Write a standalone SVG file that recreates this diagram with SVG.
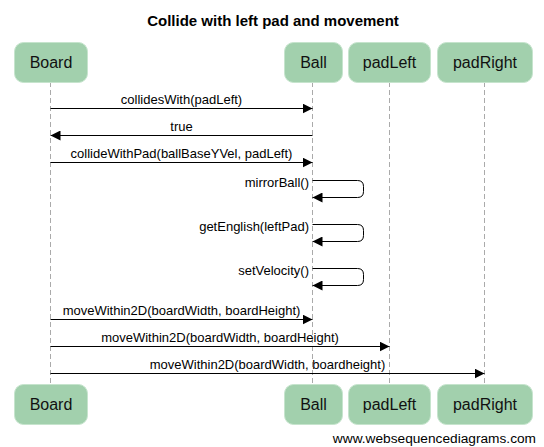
<svg xmlns="http://www.w3.org/2000/svg" width="544" height="447" viewBox="0 0 544 447">
<style>
.bg{fill:#ffffff}
.title{font-family:"Liberation Sans",Arial,sans-serif;font-size:15px;font-weight:bold;fill:#000;text-anchor:middle}
.actor rect{fill:#a2d0ad;stroke:#c6e4cd;stroke-width:1}
.actor text{font-family:"Liberation Sans",Arial,sans-serif;font-size:16px;fill:#111;text-anchor:middle}
.life{stroke:#aaaaaa;stroke-width:1;stroke-dasharray:5,3;fill:none}
.msg{stroke:#000;stroke-width:1;fill:none;marker-end:url(#ah)}
.lbl{font-family:"Liberation Sans",Arial,sans-serif;font-size:13px;fill:#000;text-anchor:middle}
.lblr{font-family:"Liberation Sans",Arial,sans-serif;font-size:13px;fill:#000;text-anchor:end}
.foot{font-family:"Liberation Sans",Arial,sans-serif;font-size:13.7px;fill:#000;text-anchor:end}
</style>
<defs>
<marker id="ah" markerWidth="10" markerHeight="10" refX="10" refY="5" orient="auto" markerUnits="userSpaceOnUse">
<path d="M0,0 L10,5 L0,10 z" fill="#000"/>
</marker>
</defs>
<rect class="bg" x="0" y="0" width="544" height="447"/>
<text class="title" x="273" y="26">Collide with left pad and movement</text>
<g id="lifelines">
<line class="life" x1="50.5" y1="82" x2="50.5" y2="384"/>
<line class="life" x1="312.5" y1="82" x2="312.5" y2="384"/>
<line class="life" x1="389.5" y1="82" x2="389.5" y2="384"/>
<line class="life" x1="484.5" y1="82" x2="484.5" y2="384"/>
</g>
<g id="Board" class="actor">
<rect x="14.5" y="42.5" width="73" height="40" rx="9"/>
<text x="51" y="68">Board</text>
<rect x="14.5" y="384.5" width="73" height="40" rx="9"/>
<text x="51" y="410">Board</text>
</g>
<g id="Ball" class="actor">
<rect x="284.5" y="42.5" width="58" height="40" rx="9"/>
<text x="313.5" y="68">Ball</text>
<rect x="284.5" y="384.5" width="58" height="40" rx="9"/>
<text x="313.5" y="410">Ball</text>
</g>
<g id="padLeft" class="actor">
<rect x="348.5" y="42.5" width="82" height="40" rx="9"/>
<text x="389.5" y="68">padLeft</text>
<rect x="348.5" y="384.5" width="82" height="40" rx="9"/>
<text x="389.5" y="410">padLeft</text>
</g>
<g id="padRight" class="actor">
<rect x="437.5" y="42.5" width="95" height="40" rx="9"/>
<text x="485" y="68">padRight</text>
<rect x="437.5" y="384.5" width="95" height="40" rx="9"/>
<text x="485" y="410">padRight</text>
</g>
<g id="connectors">
<line class="msg" x1="50.5" y1="108.5" x2="312.5" y2="108.5"/>
<text class="lbl" x="181.5" y="104">collidesWith(padLeft)</text>
<line class="msg" x1="312.5" y1="135.5" x2="50.5" y2="135.5"/>
<text class="lbl" x="181.5" y="131">true</text>
<line class="msg" x1="50.5" y1="162.5" x2="312.5" y2="162.5"/>
<text class="lbl" x="181.5" y="158">collideWithPad(ballBaseYVel, padLeft)</text>
<path class="msg" d="M312.5,180.5 H357.5 Q363.5,180.5 363.5,186.5 V191.5 Q363.5,197.5 357.5,197.5 H312.5"/>
<text class="lblr" x="309" y="187">mirrorBall()</text>
<path class="msg" d="M312.5,224.5 H357.5 Q363.5,224.5 363.5,230.5 V235.5 Q363.5,241.5 357.5,241.5 H312.5"/>
<text class="lblr" x="309" y="231">getEnglish(leftPad)</text>
<path class="msg" d="M312.5,268.5 H357.5 Q363.5,268.5 363.5,274.5 V279.5 Q363.5,285.5 357.5,285.5 H312.5"/>
<text class="lblr" x="309" y="275">setVelocity()</text>
<line class="msg" x1="50.5" y1="319.5" x2="312.5" y2="319.5"/>
<text class="lbl" x="181.5" y="315">moveWithin2D(boardWidth, boardHeight)</text>
<line class="msg" x1="50.5" y1="346.5" x2="389.5" y2="346.5"/>
<text class="lbl" x="220" y="342">moveWithin2D(boardWidth, boardHeight)</text>
<line class="msg" x1="50.5" y1="373.5" x2="484.5" y2="373.5"/>
<text class="lbl" x="267.5" y="369">moveWithin2D(boardWidth, boardheight)</text>
</g>
<text class="foot" x="536" y="443">www.websequencediagrams.com</text>
</svg>
